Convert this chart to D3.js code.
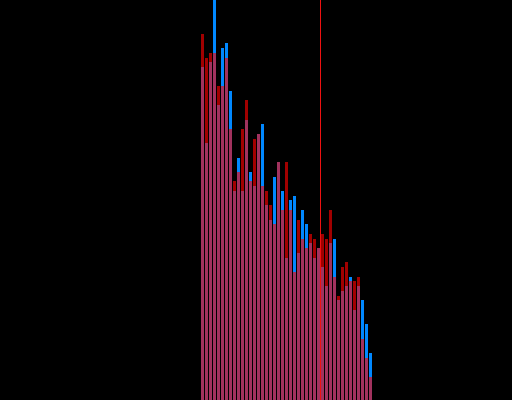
<!DOCTYPE html>
<html>
<head>
<meta charset="utf-8">
<script src="https://cdn.jsdelivr.net/npm/d3@7"></script>
<style>
html,body{margin:0;padding:0;background:#000;overflow:hidden;}
svg{display:block;}
</style>
</head>
<body>
<script>
// bin index (0..42), counts in chart units (0 = bottom, 400 = top of view)
const bins = d3.range(43);
const blueValues = [333,257,338,410,295,352,357,309,209,242,209,280,228,214,266,276,195,180,223,238,209,142,200,204,147,190,176,157,142,152,133,114,157,161,100,109,114,123,90,114,100,76,47];
const redValues  = [366,342,347,347,314,314,342,271,219,228,271,300,219,261,266,214,209,195,176,238,190,238,190,128,180,161,152,166,161,152,166,161,190,123,104,133,138,119,119,123,61,42,23];
const meanValue = 29.75;

const W = 512, H = 400;
const svg = d3.select("body").append("svg").attr("width", W).attr("height", H);
svg.append("rect").attr("width", W).attr("height", H).attr("fill", "#000");

const x = d3.scaleLinear().domain([0, 43]).range([201, 373]);
const y = d3.scaleLinear().domain([0, 400]).range([H, 0]);
const bw = 3;

svg.append("g").selectAll("rect").data(bins).join("rect")
  .attr("x", d => x(d))
  .attr("width", bw)
  .attr("y", d => y(blueValues[d]))
  .attr("height", d => y(0) - y(blueValues[d]))
  .attr("fill", "#0088ff");

svg.append("g").selectAll("rect").data(bins).join("rect")
  .attr("x", d => x(d))
  .attr("width", bw)
  .attr("y", d => y(redValues[d]))
  .attr("height", d => y(0) - y(redValues[d]))
  .attr("fill", "#ff0000")
  .attr("fill-opacity", 0.63);

svg.append("line")
  .attr("x1", x(meanValue) + 0.5).attr("x2", x(meanValue) + 0.5)
  .attr("y1", 0).attr("y2", H)
  .attr("stroke", "#ee1111")
  .attr("stroke-width", 1);
</script>
</body>
</html>
